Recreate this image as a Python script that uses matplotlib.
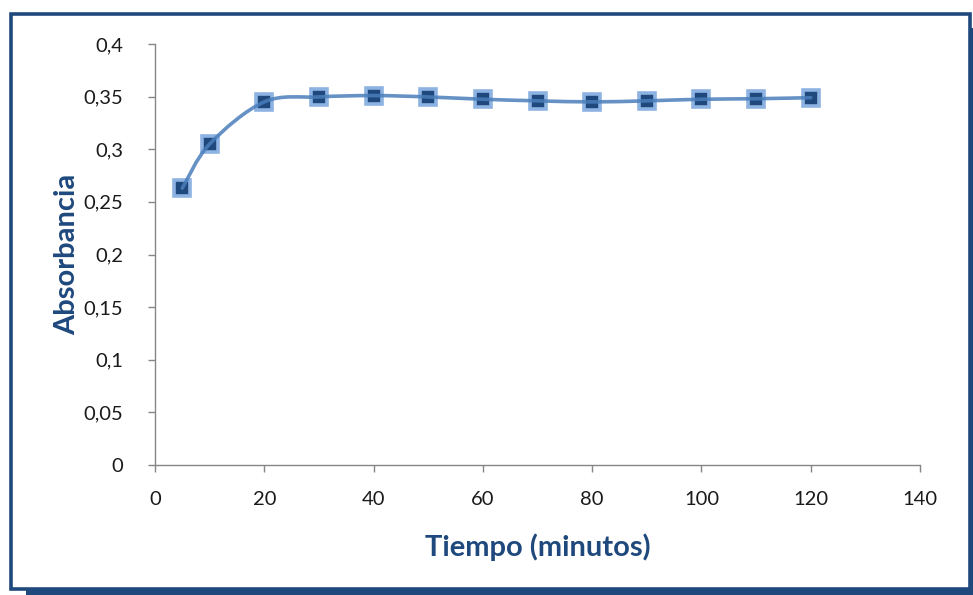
import matplotlib
matplotlib.use("Agg")
import matplotlib.pyplot as plt
from matplotlib.patches import Rectangle, PathPatch
from matplotlib.path import Path
from matplotlib.ticker import MultipleLocator, FuncFormatter

plt.rcParams['font.family'] = ['Lato', 'DejaVu Sans']

tiempo = [5, 10, 20, 30, 40, 50, 60, 70, 80, 90, 100, 110, 120]
absorbancia = [0.263, 0.305, 0.345, 0.3497, 0.351, 0.3497, 0.3475, 0.346,
               0.345, 0.346, 0.3475, 0.348, 0.349]
x_label = "Tiempo (minutos)"
y_label = "Absorbancia"

W, H = 973, 595
fig = plt.figure(figsize=(W / 100, H / 100), dpi=100)

# frame with shadow
fig.add_artist(Rectangle((26 / W, 0), (973 - 26) / W, (595 - 28) / H,
                         transform=fig.transFigure, facecolor="#1F497D",
                         edgecolor="none", zorder=-2))
fig.add_artist(Rectangle((10.75 / W, 6.5 / H), (969.75 - 10.75) / W, (581.25 - 6.5) / H,
                         transform=fig.transFigure, facecolor="white",
                         edgecolor="#1F497D", linewidth=2.6, zorder=-1))

ax = fig.add_axes([155 / W, 1 - 465 / H, (920 - 155) / W, (465 - 44) / H])
ax.set_zorder(2)
ax.set_facecolor("none")
ax.set_xlim(0, 140)
ax.set_ylim(0, 0.4)
ax.xaxis.set_major_locator(MultipleLocator(20))
ax.yaxis.set_major_locator(MultipleLocator(0.05))


def fmt(v, pos):
    s = f"{v:.2f}".rstrip("0").rstrip(".")
    return s.replace(".", ",")


ax.yaxis.set_major_formatter(FuncFormatter(fmt))
ax.xaxis.set_major_formatter(FuncFormatter(lambda v, p: f"{int(round(v))}"))
for s in ("top", "right"):
    ax.spines[s].set_visible(False)
for s in ("left", "bottom"):
    ax.spines[s].set_color("#868686")
    ax.spines[s].set_linewidth(1.0)
ax.tick_params(axis="both", direction="out", length=5, width=1.0, color="#868686",
               labelsize=14.5, labelcolor="#1a1a1a")
ax.tick_params(axis="x", pad=14)
ax.tick_params(axis="y", pad=18)

# smoothed line (Catmull-Rom bezier through the data points)
n = len(tiempo)
verts = [(tiempo[0], absorbancia[0])]
codes = [Path.MOVETO]
for i in range(n - 1):
    p0 = (tiempo[max(i - 1, 0)], absorbancia[max(i - 1, 0)])
    p1 = (tiempo[i], absorbancia[i])
    p2 = (tiempo[i + 1], absorbancia[i + 1])
    p3 = (tiempo[min(i + 2, n - 1)], absorbancia[min(i + 2, n - 1)])
    c1 = (p1[0] + (p2[0] - p0[0]) / 6, p1[1] + (p2[1] - p0[1]) / 6)
    c2 = (p2[0] - (p3[0] - p1[0]) / 6, p2[1] - (p3[1] - p1[1]) / 6)
    verts += [c1, c2, p2]
    codes += [Path.CURVE4] * 3

ax.plot(tiempo, absorbancia, linestyle="none", marker="s", markersize=11.5,
        markerfacecolor="#1F497D", markeredgecolor="#8DB3E2", markeredgewidth=2.6,
        zorder=4, clip_on=False)
ax.add_patch(PathPatch(Path(verts, codes), facecolor="none", edgecolor="#4A7EBB",
                       linewidth=2.6, zorder=5, capstyle="round", joinstyle="round",
                       alpha=0.85))

ax.set_xlabel(x_label, fontsize=21, fontweight="bold", color="#1F497D", labelpad=18)
ax.set_ylabel(y_label, fontsize=21, fontweight="bold", color="#1F497D", labelpad=2)

fig.savefig("out.png", dpi=100)
